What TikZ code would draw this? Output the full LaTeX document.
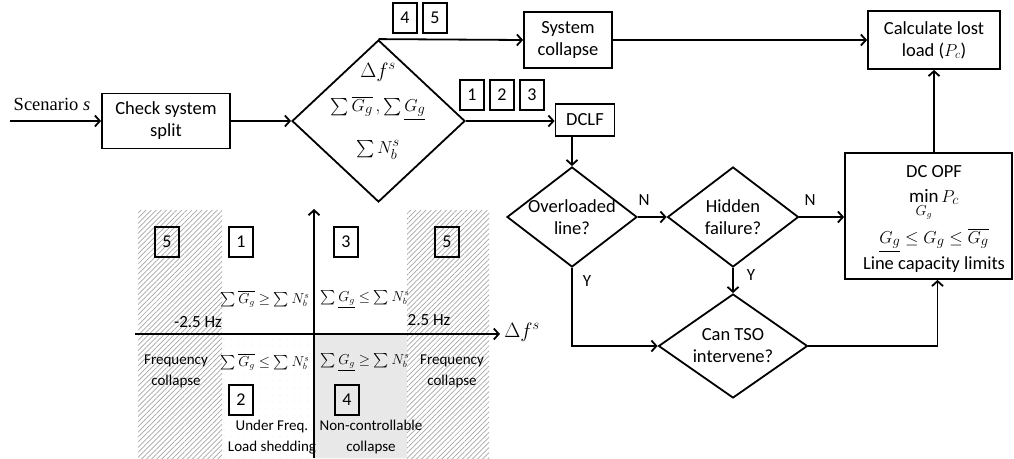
\documentclass[tikz,border=0pt]{standalone}
\usepackage{exscale}
\usepackage{fontspec}
\setmainfont{Carlito}
\newfontfamily\serifr{Liberation Serif}
\usetikzlibrary{arrows.meta,shapes.geometric,patterns.meta}
\newcommand{\bsum}{\mathop{\textstyle\sum}}
\begin{document}
\begin{tikzpicture}[x=1pt,y=-1pt,
  line width=1.8pt,
  arr/.style={-{Straight Barb[length=5pt,width=11pt]}},
  box/.style={draw, line width=1.8pt, align=center, inner sep=0, font=\fontsize{18.5}{22}\selectfont},
  dia/.style={draw, diamond, line width=1.8pt, inner sep=0},
  num/.style={draw, line width=1.6pt, minimum width=24, minimum height=30, inner sep=0, font=\fontsize{18}{20}\selectfont},
  txt/.style={align=center, inner sep=0, font=\fontsize{18.5}{22}\selectfont},
  small/.style={align=center, inner sep=0, font=\fontsize{15}{21}\selectfont},
  qmath/.style={inner sep=0, font=\fontsize{13.5}{14}\selectfont},
  lbl/.style={inner sep=0, font=\fontsize{17}{20}\selectfont}]
\useasboundingbox (0,0) rectangle (1014,458);

% ---------- quadrant chart background ----------
\fill[pattern={Lines[angle=45,distance=3.6pt,line width=0.7pt]}, pattern color=gray!70] (138,210) rectangle (222,458);
\fill[pattern={Lines[angle=45,distance=3.6pt,line width=0.7pt]}, pattern color=gray!70] (407,210) rectangle (489,458);
\fill[pattern={Dots[distance=7pt,radius=0.45pt]}, pattern color=gray!45] (222,334) rectangle (314,458);
\fill[gray!14] (314,334) rectangle (407,458);
\fill[pattern={Dots[distance=2pt,radius=0.5pt]}, pattern color=gray!35] (314,334) rectangle (407,458);

\coordinate (xs) at (135,334);
\coordinate (xe) at (500,334);
\coordinate (ys) at (314,458);
\coordinate (ye) at (314,209);
\draw[arr] (xs) -- (xe);
\draw[arr] (ys) -- (ye);
\node[inner sep=0, font=\fontsize{20}{22}\selectfont] (dfax) at (522,332) {$\Delta f^{s}$};

\node[num] (q5l) at (167,242) {5};
\node[num] (q1) at (241,242) {1};
\node[num] (q3) at (346,242) {3};
\node[num] (q5r) at (447,242) {5};
\node[num] (q2) at (241,400) {2};
\node[num] (q4) at (347,400) {4};

\node[qmath] (s1) at (265,299) {$\bsum\overline{G_g}\geq\bsum N_b^s$};
\node[qmath] (s3) at (365,299) {$\bsum\underline{G_g}\leq\bsum N_b^s$};
\node[qmath] (s2) at (265,362) {$\bsum\overline{G_g}\leq\bsum N_b^s$};
\node[qmath] (s4) at (365,362) {$\bsum\underline{G_g}\geq\bsum N_b^s$};

\node[lbl] (m25) at (198,322) {-2.5 Hz};
\node[lbl] (p25) at (429,320) {2.5 Hz};
\node[small] (fcl) at (176,371) {Frequency\\collapse};
\node[small] (fcr) at (452,371) {Frequency\\collapse};
\node[small] (ufl) at (272,437) {Under Freq.\\Load shedding};
\node[small] (ncc) at (371,437) {Non-controllable\\collapse};

% ---------- flowchart ----------
\node[inner sep=0, font=\serifr\fontsize{18.5}{22}\selectfont] (scen) at (52,104) {Scenario \textit{s}};
\coordinate (start) at (10,121);
\node[box, minimum width=128, minimum height=55] (check) at (166,121) {Check system\\split};
\draw[arr] (start) -- (check.west);

\node[dia, minimum width=173, minimum height=162] (bigd) at (378.5,121) {};
\node[inner sep=0, font=\fontsize{20}{22}\selectfont] (bdf) at (378,72) {$\Delta f^{s}$};
\node[inner sep=0, font=\fontsize{19}{22}\selectfont] (bsum) at (378,108) {$\bsum\overline{G_g}\,,\bsum\underline{G_g}$};
\node[inner sep=0, font=\fontsize{19}{22}\selectfont] (bnb) at (378,150) {$\bsum N_b^s$};
\draw[arr] (check.east) -- (bigd.west);

\node[box, minimum width=88, minimum height=56] (sys) at (568,40) {System\\collapse};
\node[box, minimum width=132, minimum height=58] (calc) at (934,40) {Calculate lost\\load ($P_c$)};
\draw[arr] (bigd.north) -- (sys.west);
\draw[arr] (sys.east) -- (calc.west);
\node[num] (n4) at (405,18) {4};
\node[num] (n5) at (435,18) {5};

\node[box, minimum width=59, minimum height=32] (dclf) at (585,120) {DCLF};
\draw[arr] (bigd.east) -- (bigd.east -| dclf.west);
\node[num] (n1) at (472,95) {1};
\node[num] (n2) at (502,95) {2};
\node[num] (n3) at (532,95) {3};

\node[dia, minimum width=130, minimum height=100] (ovl) at (572,217) {};
\node[txt] (ovlt) at (572,217) {Overloaded\\line?};
\draw[arr] (dclf.south -| ovl.north) -- (ovl.north);

\node[dia, minimum width=131, minimum height=100] (hid) at (733,217) {};
\node[txt] (hidt) at (733,217) {Hidden\\failure?};
\draw[arr] (ovl.east) -- (hid.west);
\node[lbl] (nl1) at (644,200) {N};

\node[box, minimum width=167, minimum height=126] (opf) at (928.5,216) {};
\node[txt] (opf1) at (934,172) {DC OPF};
\node[inner sep=0, font=\fontsize{19}{22}\selectfont] (opf2) at (934,205) {$\min\limits_{G_g} P_c$};
\node[inner sep=0, font=\fontsize{19}{22}\selectfont] (opf3) at (934,240) {$\underline{G_g}\leq G_g\leq\overline{G_g}$};
\node[txt] (opf4) at (934,265) {Line capacity limits};
\draw[arr] (hid.east) -- (hid.east -| opf.west);
\node[lbl] (nl2) at (810,200) {N};
\draw[arr] (opf.north -| calc.south) -- (calc.south);

\node[dia, minimum width=149, minimum height=104] (tso) at (733,346) {};
\node[txt] (tsot) at (733,346) {Can TSO\\intervene?};
\draw[arr] (hid.south) -- (tso.north);
\node[lbl] (yl2) at (751,275) {Y};
\draw[arr] (ovl.south) |- (tso.west);
\node[lbl] (yl1) at (587,281) {Y};
\draw[arr] (tso.east) -| ([xshift=9pt]opf.south);
\end{tikzpicture}
\end{document}
